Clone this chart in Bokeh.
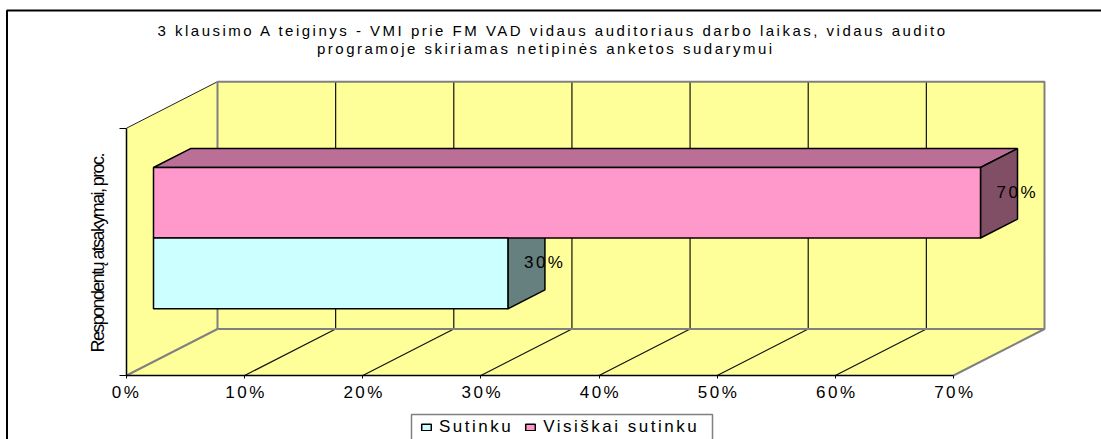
from math import pi
from bokeh.plotting import figure
from bokeh.embed import file_html
from bokeh.resources import INLINE
from bokeh.models import Range1d, LinearAxis, FixedTicker, PrintfTickFormatter, Legend, LegendItem
from bokeh.core.properties import value

# ---- data ----
categories = ["Sutinku", "Visiškai sutinku"]
percent = [30, 70]
x_ticks = [0, 10, 20, 30, 40, 50, 60, 70]
y_ticks = [0, 1]
title_lines = ["3 klausimo A teiginys - VMI prie FM VAD vidaus auditoriaus darbo laikas, vidaus audito",
               "programoje skiriamas netipinės anketos sudarymui"]
y_label = "Respondentų atsakymai, proc."

# ---- pseudo-3D geometry, in data units (x: percent, y: category-axis fraction) ----
W, H = 1101, 439
PX = (953 - 126) / 70       # px per percent
PY = 375 - 127.7            # px per y unit
DX = 91 / PX                # full depth shift
DY = 46.5 / PY
BAR0 = 27 / 91              # depth fraction at the bars' front
BAR1 = 64 / 91              # depth fraction at the bars' back
BAR_H = [(375 - s) / PY - BAR0 * DY for s in (308.3, 237.5, 167)]

def P(v, d, y):
    return v + d * DX, y + d * DY

def poly(pts):
    return [a for a, b in pts], [b for a, b in pts]

def sx(px):
    return (px - 126) / PX

def sy(px):
    return (375 - px) / PY

p = figure(width=W, height=H, output_backend="svg", toolbar_location=None,
           x_range=Range1d(sx(0), sx(W)), y_range=Range1d(sy(H), sy(0)),
           x_axis_type=None, y_axis_type=None, min_border=0, outline_line_color=None)
p.xgrid.visible = False
p.ygrid.visible = False
p.styles = {"position": "absolute", "left": "0px", "top": "0px", "letter-spacing": "2.5px"}

ax_max = x_ticks[-1]
WALL = "#FFFF99"
GREY = "#808080"

# walls and floor
xs, ys = poly([P(0, 0, 0), P(0, 1, 0), P(0, 1, 1), P(0, 0, 1)])
p.patch(xs, ys, fill_color=WALL, line_color=None)
xs, ys = poly([P(0, 0, 0), P(ax_max, 0, 0), P(ax_max, 1, 0), P(0, 1, 0)])
p.patch(xs, ys, fill_color=WALL, line_color=None)
xs, ys = poly([P(0, 1, 0), P(ax_max, 1, 0), P(ax_max, 1, 1), P(0, 1, 1)])
p.patch(xs, ys, fill_color=WALL, line_color=None)

# grid lines
for t in x_ticks[1:-1]:
    a, b = poly([P(t, 0, 0), P(t, 1, 0), P(t, 1, 1)])
    p.line(a, b, line_color="#111111", line_width=1.2)
a, b = poly([P(0, 0, 1), P(0, 1, 1)])
p.line(a, b, line_color="#222222", line_width=1)
a, b = poly([P(0, 0, 0), P(0, 1, 0)])
p.line(a, b, line_color=GREY, line_width=2)
a, b = poly([P(0, 1, 0), P(0, 1, 1), P(ax_max, 1, 1), P(ax_max, 1, 0), P(0, 1, 0)])
p.line(a, b, line_color=GREY, line_width=2)
a, b = poly([P(ax_max, 0, 0), P(ax_max, 1, 0)])
p.line(a, b, line_color=GREY, line_width=2)

# bars
front_colors = ["#CCFFFF", "#FF99CC"]
top_colors = ["#A3CCCC", "#BC6F96"]
side_colors = ["#667F7F", "#804F66"]
front_renderers = []
for i, (cat, v) in enumerate(zip(categories, percent)):
    y0, y1 = BAR_H[i], BAR_H[i + 1]
    if i == len(percent) - 1:
        a, b = poly([P(0, BAR0, y1), P(v, BAR0, y1), P(v, BAR1, y1), P(0, BAR1, y1)])
        p.patch(a, b, fill_color=top_colors[i], line_color="black", line_width=1.5)
    a, b = poly([P(v, BAR0, y0), P(v, BAR1, y0), P(v, BAR1, y1), P(v, BAR0, y1)])
    p.patch(a, b, fill_color=side_colors[i], line_color="black", line_width=1.5)

for i, (cat, v) in reversed(list(enumerate(zip(categories, percent)))):
    y0, y1 = BAR_H[i], BAR_H[i + 1]
    fx0, fy0 = P(0, BAR0, y0)
    fx1, fy1 = P(v, BAR0, y1)
    r = p.quad(left=[fx0], right=[fx1], bottom=[fy0], top=[fy1],
               fill_color=front_colors[i], line_color="black", line_width=1.5)
    front_renderers.insert(0, r)

# value labels, centred on the bars' back right edge
for i, v in enumerate(percent):
    y0, y1 = BAR_H[i], BAR_H[i + 1]
    lx, _ = P(v, BAR1, 0)
    ly = (y0 + y1) / 2 + BAR0 * DY + 10.5 / PY
    p.text([lx], [ly], text=[f"{v}%"], text_align="left", text_baseline="middle", x_offset=-21,
           text_font=value("Liberation Sans"), text_font_size="17px", text_color="black")

# axes
xa = LinearAxis(fixed_location=0, ticker=FixedTicker(ticks=x_ticks), bounds=(0, ax_max),
                formatter=PrintfTickFormatter(format="%d%% "))
xa.axis_line_color = "black"
xa.axis_line_width = 1.5
xa.major_tick_line_color = "black"
xa.major_tick_in = 0
xa.major_tick_out = 3
xa.minor_tick_line_color = None
xa.major_label_standoff = 4
xa.major_label_text_font = "Liberation Sans"
xa.major_label_text_font_size = "17px"
xa.major_label_text_color = "black"
p.add_layout(xa, "below")

ya = LinearAxis(fixed_location=0, ticker=FixedTicker(ticks=y_ticks), bounds=(0, 1),
                major_label_overrides={t: "" for t in y_ticks})
ya.axis_line_color = "black"
ya.axis_line_width = 1.5
ya.major_tick_line_color = "black"
ya.major_tick_in = 0
ya.major_tick_out = 7
ya.minor_tick_line_color = None
p.add_layout(ya, "left")

# title as two lines, left-aligned at the starts that centre them with the wide tracking
for line, left, top in zip(title_lines, (157, 316.5), (29.5, 47.8)):
    p.text([sx(left)], [sy(top)], text=[line], text_align="left",
           text_baseline="middle", text_font=value("Liberation Sans"), text_font_size="15px",
           text_color="black")

# legend box (cut off by the picture's bottom edge) and legend
p.quad(left=[sx(411)], right=[sx(712)], bottom=[sy(H + 5)], top=[sy(414)],
       fill_color="white", line_color=GREY, line_width=1.5)
legend = Legend(items=[LegendItem(label=c, renderers=[r]) for c, r in zip(categories, front_renderers)],
                orientation="horizontal", location=(420, 2), border_line_color=None,
                background_fill_alpha=0,
                label_text_font="Liberation Sans", label_text_font_size="17px", label_text_color="black",
                glyph_width=12, glyph_height=8, padding=3, margin=0, spacing=11, label_standoff=7)
p.add_layout(legend, "center")

# chart border: left and top edges only, the picture is cut off at right and bottom
a, b = poly([(sx(6.5), sy(H)), (sx(6.5), sy(10)), (sx(W), sy(10))])
p.line(a, b, line_color="black", line_width=2)

# the axis title is set tight, so it sits in its own transparent overlay
q = figure(width=40, height=240, output_backend="svg", toolbar_location=None,
           x_range=Range1d(0, 1), y_range=Range1d(0, 1), x_axis_type=None, y_axis_type=None,
           min_border=0, outline_line_color=None, background_fill_color=None, border_fill_color=None)
q.xgrid.visible = False
q.ygrid.visible = False
q.styles = {"position": "absolute", "left": "77px", "top": "130px", "letter-spacing": "-1.6px",
            "background": "transparent"}
q.text([0.5], [0.075], text=[y_label], angle=pi / 2, text_align="left", text_baseline="middle",
       text_font=value("Liberation Sans"), text_font_size="18px", text_color="black")

open("out.html", "w").write(file_html([p, q], INLINE))
